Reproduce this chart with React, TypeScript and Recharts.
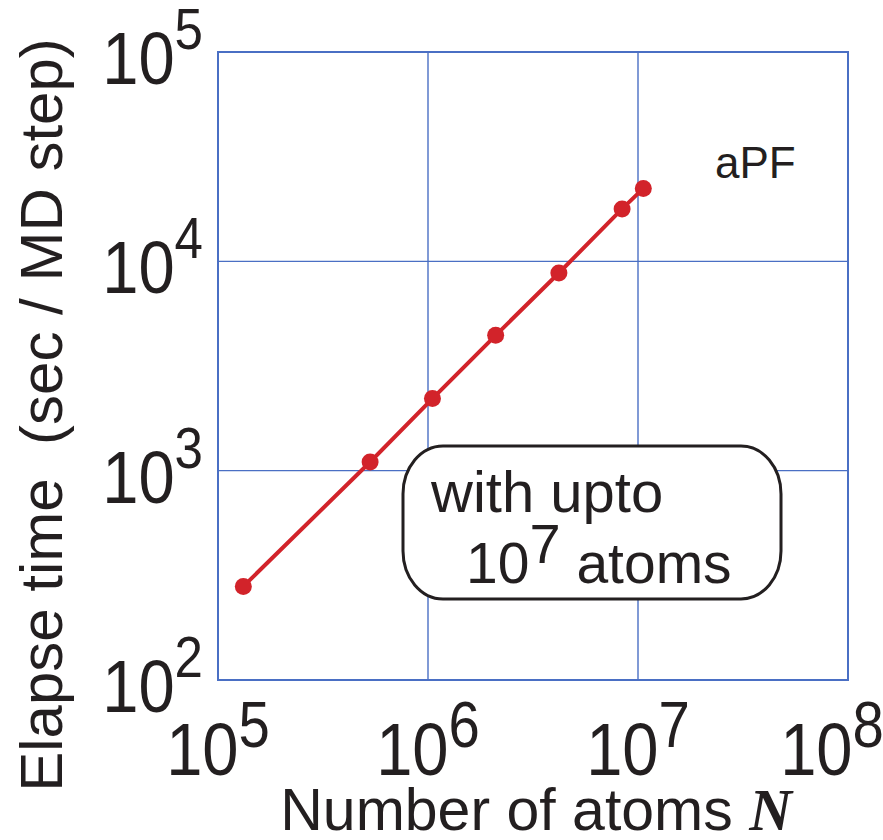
import React from "react";
import { ScatterChart, Scatter, XAxis, YAxis, CartesianGrid, ReferenceArea } from "recharts";

// aPF scaling: atoms vs. elapse time per MD step
const atoms = [1.32e5, 5.3e5, 1.05e6, 2.1e6, 4.2e6, 8.4e6, 1.06e7];
const elapsed = [280, 1100, 2210, 4430, 8800, 17800, 22300];

const xTicks = [1e5, 1e6, 1e7, 1e8];
const yTicks = [1e2, 1e3, 1e4, 1e5];

const data = atoms.map((n, i) => ({ n, t: elapsed[i] }));

const FONT = "'Liberation Sans', Arial, sans-serif";
const INK = "#231f20";
const RED = "#d2232a";
const BLUE = "#4a6fc4";

const exp = (v: number) => Math.round(Math.log10(v));

// tick labels are a narrow face in the original, so squeeze them a bit
function XTick(props: any) {
  const { x, payload } = props;
  const cx = payload.value >= 1e8 ? x - 16 : x;
  return (
    <g transform={`translate(${cx},775) scale(0.88,1)`}>
      <text x={0} y={0} textAnchor="middle" fontFamily={FONT} fontSize={74} fill={INK}>
        10
        <tspan dy={-28} fontSize={64}>{exp(payload.value)}</tspan>
      </text>
    </g>
  );
}

function YTick(props: any) {
  const { y, payload } = props;
  return (
    <g transform={`translate(203,${y + 32}) scale(0.88,1)`}>
      <text x={0} y={0} textAnchor="end" fontFamily={FONT} fontSize={74} fill={INK}>
        10
        <tspan dy={-35} fontSize={58}>{exp(payload.value)}</tspan>
      </text>
    </g>
  );
}

const dot = (p: any) => <circle cx={p.cx} cy={p.cy} r={8.5} fill={RED} />;

export default function App() {
  return (
    <div style={{ position: "absolute", left: 0, top: 0, width: 883, height: 840, background: "#fff" }}>
      <ScatterChart width={883} height={840} margin={{ top: 52, right: 35, bottom: 0, left: 0 }}>
        <CartesianGrid stroke={BLUE} strokeWidth={1.4} />
        <ReferenceArea x1={1e5} x2={1e8} y1={1e2} y2={1e5} fill="none" stroke={BLUE} strokeWidth={2} />
        <XAxis
          dataKey="n"
          type="number"
          scale="log"
          domain={[1e5, 1e8]}
          ticks={xTicks}
          interval={0}
          allowDataOverflow
          height={160}
          axisLine={false}
          tickLine={false}
          tick={<XTick />}
          label={{
            content: () => (
              <text x={536} y={830} textAnchor="middle" fontFamily={FONT} fontSize={59} fill={INK}>
                Number of atoms{" "}
                <tspan fontFamily="'Liberation Serif', 'Times New Roman', serif" fontWeight="bold" fontStyle="italic">
                  N
                </tspan>
              </text>
            ),
          }}
        />
        <YAxis
          dataKey="t"
          type="number"
          scale="log"
          domain={[1e2, 1e5]}
          ticks={yTicks}
          interval={0}
          allowDataOverflow
          width={218}
          axisLine={false}
          tickLine={false}
          tick={<YTick />}
          label={{
            content: () => (
              <text
                x={62}
                y={415}
                transform="rotate(-90 62 415)"
                textAnchor="middle"
                fontFamily={FONT}
                fontSize={60}
                fill={INK}
                style={{ whiteSpace: "pre" }}
              >
                {"Elapse time  (sec / MD step)"}
              </text>
            ),
          }}
        />
        <Scatter
          data={data}
          fill={RED}
          line={{ stroke: RED, strokeWidth: 4 }}
          lineType="joint"
          shape={dot}
          isAnimationActive={false}
        />
      </ScatterChart>
      <svg width={883} height={840} style={{ position: "absolute", left: 0, top: 0, pointerEvents: "none" }}>
        <text x={715} y={178} fontFamily={FONT} fontSize={44} fill={INK}>
          aPF
        </text>
        <rect x={403} y={446} width={378} height={153} rx={40} ry={48} fill="#fff" stroke={INK} strokeWidth={3} />
        <text x={431} y={512} fontFamily={FONT} fontSize={58} fill={INK}>
          with upto
        </text>
        <text x={466} y={583} fontFamily={FONT} fontSize={57} fill={INK}>
          10
          <tspan dy={-20} fontSize={56}>7</tspan>
          <tspan dy={20}> atoms</tspan>
        </text>
      </svg>
    </div>
  );
}
